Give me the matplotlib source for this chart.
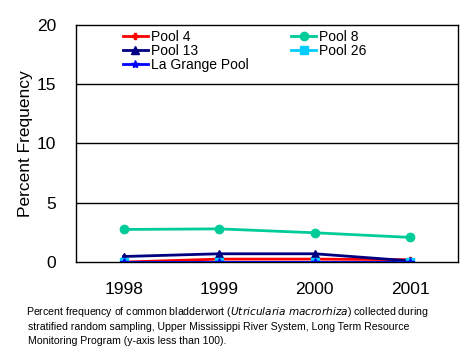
import matplotlib
matplotlib.use("Agg")
import matplotlib.pyplot as plt

plt.rcParams['font.family'] = ['Liberation Sans', 'DejaVu Sans']

years = [1998, 1999, 2000, 2001]
pool4 = [0.0, 0.25, 0.25, 0.2]
pool8 = [2.75, 2.8, 2.47, 2.08]
pool13 = [0.47, 0.7, 0.7, 0.1]
pool26 = [0.0, 0.0, 0.0, 0.0]
lagrange = [0.0, 0.0, 0.0, 0.0]

caption = [
    'Percent frequency of common bladderwort ($\\it{Utricularia\\ macrorhiza}$) collected during',
    'stratified random sampling, Upper Mississippi River System, Long Term Resource',
    'Monitoring Program (y-axis less than 100).',
]

fig = plt.figure(figsize=(4.68, 3.6), dpi=100)
ax = fig.add_axes([0.162, 0.272, 0.817, 0.659])

# horizontal gridlines like the excel chart
for g in [5, 10, 15]:
    ax.axhline(g, color='black', lw=1, zorder=0)

ax.plot(years, pool4, color='#FF0000', lw=2, marker='P', ms=5, label='Pool 4')
ax.plot(years, pool8, color='#00CC99', lw=2, marker='o', ms=6, label='Pool 8')
ax.plot(years, pool13, color='#000080', lw=2, marker='^', ms=6, label='Pool 13')
ax.plot(years, pool26, color='#00CCFF', lw=2, marker='s', ms=6, label='Pool 26')
ax.plot(years, lagrange, color='#0000FF', lw=2, marker='*', ms=6, label='La Grange Pool')

ax.set_xlim(1997.5, 2001.5)
ax.set_ylim(0, 20)
ax.set_xticks(years)
ax.set_yticks([0, 5, 10, 15, 20])
ax.tick_params(axis='x', length=0, labelsize=12.5, pad=14)
ax.tick_params(axis='y', length=0, labelsize=12.5, pad=14)
for s in ax.spines.values():
    s.set_linewidth(1)
ax.set_ylabel('Percent Frequency', fontsize=12.5, labelpad=3)

# legend order: Pool 4, Pool 8 / Pool 13, Pool 26 / La Grange Pool
h, l = ax.get_legend_handles_labels()
order = [0, 2, 4, 1, 3]
ax.legend([h[i] for i in order], [l[i] for i in order], ncol=2, frameon=False,
          loc='upper left', bbox_to_anchor=(0.123, 0.979), fontsize=10,
          handlelength=1.8, handletextpad=0.2, labelspacing=0.0,
          columnspacing=3.1, borderaxespad=0, borderpad=0)

# first line has mathtext, which adds a little left padding
for i, line in enumerate(caption):
    x0 = 0.056 if i == 0 else 0.06
    fig.text(x0, 0.1333 - i * 0.0403, line, fontsize=7.6, va='center')

fig.savefig('out.png', dpi=100)
